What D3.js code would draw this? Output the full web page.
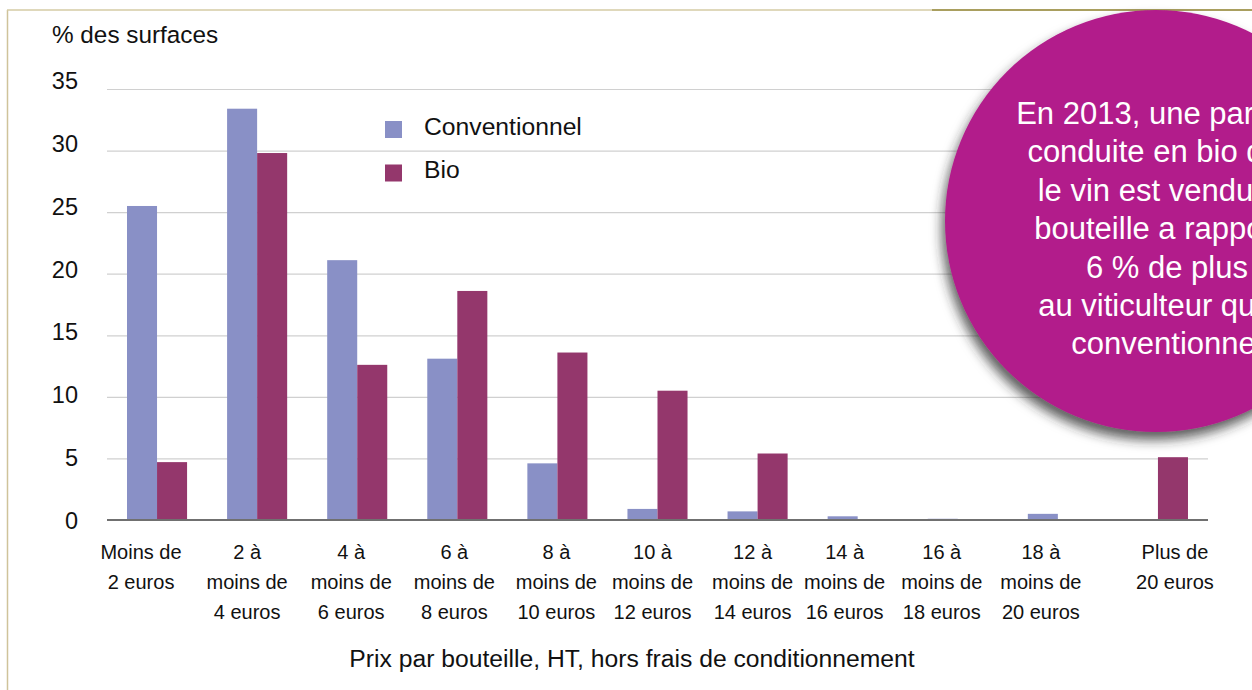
<!DOCTYPE html>
<html>
<head>
<meta charset="utf-8">
<script src="https://cdn.jsdelivr.net/npm/d3@7"></script>
<style>
  html, body { margin: 0; padding: 0; background: #fff; }
  svg { display: block; font-family: "Liberation Sans", Arial, Helvetica, sans-serif; }
</style>
</head>
<body>
<svg id="chart" width="1252" height="690"></svg>
<script>
// Price brackets per bottle (excl. tax, excl. packaging)
const categories = [
  ["Moins de", "2 euros"],
  ["2 à", "moins de", "4 euros"],
  ["4 à", "moins de", "6 euros"],
  ["6 à", "moins de", "8 euros"],
  ["8 à", "moins de", "10 euros"],
  ["10 à", "moins de", "12 euros"],
  ["12 à", "moins de", "14 euros"],
  ["14 à", "moins de", "16 euros"],
  ["16 à", "moins de", "18 euros"],
  ["18 à", "moins de", "20 euros"],
  ["Plus de", "20 euros"]
];
const seriesNames = ["Conventionnel", "Bio"];
// % of vineyard area in each bracket
const conventionnel = [25.5, 33.4, 21.1, 13.1, 4.6, 0.9, 0.7, 0.3, 0.1, 0.5, 0];
const bio           = [4.7, 29.8, 12.6, 18.6, 13.6, 10.5, 5.4, 0, 0, 0, 5.1];
const yTicks = [0, 5, 10, 15, 20, 25, 30, 35];
const calloutLines = [
  "En 2013, une parcelle",
  "conduite en bio dont",
  "le vin est vendu en",
  "bouteille a rapporté",
  "6 % de plus",
  "au viticulteur qu'un",
  "conventionnel"
];

// label nudges (px) so the wrapped category text sits as in the layout
const labelShift = [-16, -10, -6, -3, -1, -5, -5, -13, -16, -17, 17];

const colors = { Conventionnel: "#8990C6", Bio: "#94376C" };
const svg = d3.select("#chart");

const plotLeft = 107, plotRight = 1208, plotTop = 89, plotBottom = 520;

const x0 = d3.scaleBand().domain(d3.range(categories.length)).range([plotLeft, plotRight]).padding(0);
const x1 = d3.scaleBand().domain(seriesNames).range([20, 80 * x0.bandwidth() / 100]).padding(0);
const y = d3.scaleLinear().domain([0, 35]).range([plotBottom, plotTop]);
// tick labels are spread slightly wider than the grid
const yLabel = d3.scaleLinear().domain([0, 35]).range([plotBottom, plotTop - 8.5]);

// outer frame
svg.append("line").attr("x1", 7.5).attr("x2", 7.5).attr("y1", 10).attr("y2", 690)
  .attr("stroke", "#CFC39A").attr("stroke-width", 1.5);
svg.append("line").attr("x1", 7).attr("x2", 932).attr("y1", 10).attr("y2", 10)
  .attr("stroke", "#D4CBA4").attr("stroke-width", 1.5);
svg.append("line").attr("x1", 932).attr("x2", 1252).attr("y1", 10).attr("y2", 10)
  .attr("stroke", "#A99F5F").attr("stroke-width", 2);

// gridlines
const yAxis = d3.axisLeft(y).tickValues(yTicks).tickSize(-(plotRight - plotLeft)).tickFormat(d => d);
const gy = svg.append("g").attr("transform", `translate(${plotLeft},0)`).call(yAxis);
gy.select(".domain").remove();
gy.selectAll(".tick line").attr("stroke", "#D0D0D0").attr("stroke-width", 1.2);
gy.selectAll(".tick text")
  .attr("x", -29)
  .attr("y", d => yLabel(d) - y(d))
  .attr("dy", "0.35em")
  .attr("font-size", 23.5).attr("fill", "#111")
  .attr("font-family", "'Liberation Sans', Arial, sans-serif");

// y axis title
svg.append("text").attr("x", 52).attr("y", 43).attr("font-size", 24.3).attr("fill", "#111")
  .text("% des surfaces");

// bars
const rows = categories.map((c, i) => ({ i, values: [conventionnel[i], bio[i]] }));
const groups = svg.append("g").selectAll("g").data(rows).join("g")
  .attr("transform", d => `translate(${x0(d.i)},0)`);
groups.selectAll("rect")
  .data(d => seriesNames.map((s, k) => ({ s, v: d.values[k] })))
  .join("rect")
  .attr("x", d => x1(d.s))
  .attr("width", x1.bandwidth())
  .attr("y", d => y(d.v))
  .attr("height", d => y(0) - y(d.v))
  .attr("fill", d => colors[d.s]);

// baseline
svg.append("line").attr("x1", plotLeft).attr("x2", plotRight).attr("y1", y(0)).attr("y2", y(0))
  .attr("stroke", "#707070").attr("stroke-width", 2);

// category labels
const xl = svg.append("g");
categories.forEach((lines, i) => {
  const cxLabel = x0(i) + x0.bandwidth() / 2 + labelShift[i];
  const t = xl.append("text")
    .attr("x", cxLabel)
    .attr("y", 559)
    .attr("text-anchor", "middle")
    .attr("font-size", 20).attr("fill", "#111");
  lines.forEach((ln, k) => {
    t.append("tspan").attr("x", cxLabel).attr("dy", k === 0 ? 0 : 30).text(ln);
  });
});

// x axis title
svg.append("text").attr("x", 632).attr("y", 667).attr("text-anchor", "middle")
  .attr("font-size", 24.7).attr("fill", "#111")
  .text("Prix par bouteille, HT, hors frais de conditionnement");

// legend
const legend = svg.append("g");
seriesNames.forEach((s, k) => {
  legend.append("rect").attr("x", 385).attr("y", 121 + k * 43.5).attr("width", 17).attr("height", 17)
    .attr("fill", colors[s]);
  legend.append("text").attr("x", 424).attr("y", 135 + k * 42.5).attr("font-size", 24.7).attr("fill", "#111")
    .text(s);
});

// callout bubble
const defs = svg.append("defs");
const f = defs.append("filter").attr("id", "shadow").attr("x", "-20%").attr("y", "-20%")
  .attr("width", "140%").attr("height", "140%");
f.append("feDropShadow").attr("dx", -3).attr("dy", 8).attr("stdDeviation", 6)
  .attr("flood-color", "#2a2a2a").attr("flood-opacity", 0.75);

const cx = 1156, cy = 221, r = 211;
svg.append("circle").attr("cx", cx).attr("cy", cy).attr("r", r)
  .attr("fill", "#B21E8B").attr("filter", "url(#shadow)");
const ct = svg.append("text").attr("text-anchor", "middle").attr("fill", "#fff")
  .attr("font-size", 31);
calloutLines.forEach((ln, k) => {
  ct.append("tspan").attr("x", 1167).attr("y", 124 + k * 38.4).text(ln);
});
</script>
</body>
</html>
